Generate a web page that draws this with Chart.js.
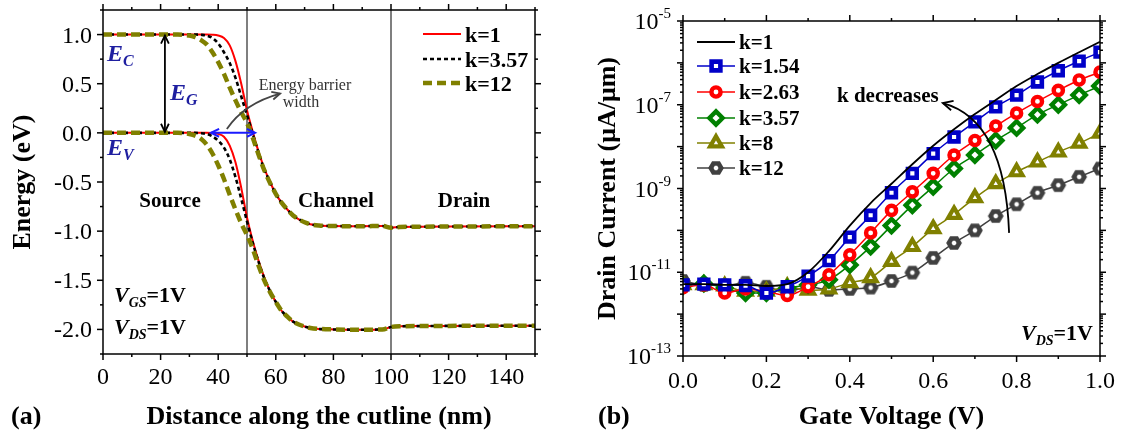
<!DOCTYPE html>
<html>
<head>
<meta charset="utf-8">
<script src="https://cdn.jsdelivr.net/npm/chart.js@4.4.0/dist/chart.umd.min.js"></script>
<style>
  html, body { margin: 0; padding: 0; background: #fff; }
  #wrap { position: relative; width: 1133px; height: 437px; }
  #cA { position: absolute; left: 0; top: 0; }
  #cB { position: absolute; left: 560px; top: 0; }
</style>
</head>
<body>
<div id="wrap">
  <canvas id="cA" width="560" height="437"></canvas>
  <canvas id="cB" width="573" height="437"></canvas>
</div>
<script>
// ---- (a) band diagram: distance along the cutline (nm) vs energy (eV)
var distNm = [0, 10, 20, 26, 28, 30, 32, 34, 36, 38, 40, 42, 44, 46, 48, 50, 52, 54, 56, 58, 60,
              62, 64, 66, 68, 70, 72, 75, 80, 90, 97, 100, 103, 110, 120, 150];
var ecK1   = [1, 1, 1, 1, 1, 1, 1, 1, 1, 0.998, 0.99, 0.965, 0.89, 0.73, 0.5, 0.23, 0.01, -0.19, -0.36, -0.5, -0.62,
              -0.71, -0.78, -0.84, -0.88, -0.91, -0.93, -0.942, -0.948, -0.95, -0.947, -0.965, -0.958, -0.955, -0.953, -0.95];
var evK1   = [0, 0, 0, 0, 0, 0, 0, 0, 0, -0.002, -0.01, -0.04, -0.13, -0.3, -0.56, -0.86, -1.1, -1.3, -1.47, -1.61, -1.72,
              -1.81, -1.87, -1.92, -1.95, -1.97, -1.985, -1.995, -2.0, -2.003, -2.0, -1.975, -1.968, -1.966, -1.964, -1.962];
var ecK357 = [1, 1, 1, 1, 1, 1, 1, 0.998, 0.99, 0.965, 0.91, 0.82, 0.71, 0.56, 0.37, 0.18, -0.01, -0.2, -0.37, -0.5, -0.62,
              -0.71, -0.78, -0.84, -0.88, -0.91, -0.93, -0.942, -0.948, -0.95, -0.947, -0.965, -0.958, -0.955, -0.953, -0.95];
var evK357 = [0, 0, 0, 0, 0, 0, 0, -0.003, -0.012, -0.035, -0.08, -0.15, -0.27, -0.45, -0.67, -0.9, -1.12, -1.31, -1.48, -1.61, -1.72,
              -1.81, -1.87, -1.92, -1.95, -1.97, -1.985, -1.995, -2.0, -2.003, -2.0, -1.975, -1.968, -1.966, -1.964, -1.962];
var ecK12  = [1, 1, 1, 1, 0.997, 0.99, 0.975, 0.945, 0.9, 0.82, 0.72, 0.6, 0.46, 0.33, 0.21, 0.1, -0.05, -0.22, -0.38, -0.51, -0.62,
              -0.71, -0.78, -0.84, -0.88, -0.91, -0.93, -0.942, -0.948, -0.95, -0.947, -0.965, -0.958, -0.955, -0.953, -0.95];
var evK12  = [0, 0, 0, 0, -0.004, -0.012, -0.028, -0.06, -0.12, -0.21, -0.33, -0.47, -0.63, -0.78, -0.92, -1.04, -1.18, -1.35, -1.5, -1.62, -1.72,
              -1.81, -1.87, -1.92, -1.95, -1.97, -1.985, -1.995, -2.0, -2.003, -2.0, -1.975, -1.968, -1.966, -1.964, -1.962];
var regionEdges = [50, 100];
var regionNames = ['Source', 'Channel', 'Drain'];

// ---- (b) transfer curves: gate voltage (V) vs drain current (uA/um)
var gateV   = [0, 0.05, 0.1, 0.15, 0.2, 0.25, 0.3, 0.35, 0.4, 0.45, 0.5, 0.55, 0.6, 0.65, 0.7, 0.75, 0.8, 0.85, 0.9, 0.95, 1.0];
var idK1    = [5.2e-12, 5.2e-12, 5.0e-12, 5.0e-12, 4.7e-12, 5.2e-12, 1.0e-11, 3.2e-11, 1.3e-10, 4.5e-10, 1.3e-9,
               3.8e-9, 1.05e-8, 2.6e-8, 6.0e-8, 1.3e-7, 2.8e-7, 5.4e-7, 1.0e-6, 1.8e-6, 3.2e-6];
var idK154  = [5.0e-12, 5.2e-12, 5.0e-12, 4.8e-12, 3.2e-12, 4.5e-12, 8.1e-12, 1.9e-11, 6.9e-11, 2.3e-10, 7.9e-10,
               2.3e-9, 6.8e-9, 1.7e-8, 3.9e-8, 8.9e-8, 1.7e-7, 3.5e-7, 6.5e-7, 1.1e-6, 1.8e-6];
var idK263  = [4.3e-12, 5.0e-12, 3.2e-12, 4.0e-12, 3.5e-12, 2.8e-12, 4.5e-12, 8.7e-12, 2.6e-11, 8.7e-11, 3.0e-10,
               8.3e-10, 2.3e-9, 6.3e-9, 1.4e-8, 3.1e-8, 6.3e-8, 1.2e-7, 2.2e-7, 3.9e-7, 6.0e-7];
var idK357  = [4.7e-12, 5.4e-12, 4.2e-12, 3.2e-12, 3.2e-12, 4.2e-12, 5.0e-12, 6.6e-12, 1.5e-11, 4.1e-11, 1.3e-10,
               4.0e-10, 1.1e-9, 3.0e-9, 6.3e-9, 1.4e-8, 2.8e-8, 5.8e-8, 1.0e-7, 1.7e-7, 2.8e-7];
var idK8    = [5.0e-12, 5.0e-12, 4.7e-12, 3.5e-12, 3.5e-12, 4.5e-12, 3.7e-12, 4.0e-12, 5.6e-12, 7.4e-12, 1.8e-11,
               4.1e-11, 1.1e-10, 2.4e-10, 6.0e-10, 1.3e-9, 2.5e-9, 4.3e-9, 7.4e-9, 1.2e-8, 2.1e-8];
var idK12   = [6.2e-12, 5.0e-12, 4.8e-12, 5.6e-12, 4.5e-12, 3.4e-12, 4.5e-12, 3.8e-12, 4.0e-12, 4.3e-12, 6.2e-12,
               9.8e-12, 2.2e-11, 5.0e-11, 1.0e-10, 2.2e-10, 4.2e-10, 7.9e-10, 1.2e-9, 1.9e-9, 3.0e-9];

var SERIF = "'Liberation Serif', 'Times New Roman', serif";
var OLIVE = 'rgb(128,128,0)';

function font(size, bold, italic) {
  return (italic ? 'italic ' : '') + (bold ? 'bold ' : '') + size + 'px ' + SERIF;
}
function pts(xs, ys) {
  return xs.map(function (x, i) { return { x: x, y: ys[i] }; });
}
function line(ctx, x1, y1, x2, y2) {
  ctx.beginPath(); ctx.moveTo(x1, y1); ctx.lineTo(x2, y2); ctx.stroke();
}
// parts: [text, size, bold, italic, dy]
function rich(ctx, parts, x, y, align) {
  var w = 0;
  parts.forEach(function (p) { ctx.font = font(p[1], p[2], p[3]); w += ctx.measureText(p[0]).width; });
  var cx = align === 'right' ? x - w : (align === 'center' ? x - w / 2 : x);
  ctx.textAlign = 'left';
  ctx.textBaseline = 'alphabetic';
  parts.forEach(function (p) {
    ctx.font = font(p[1], p[2], p[3]);
    ctx.fillText(p[0], cx, y + (p[4] || 0));
    cx += ctx.measureText(p[0]).width;
  });
}
function head(ctx, x, y, ang, len) {
  var s = 0.45;
  ctx.beginPath();
  ctx.moveTo(x - len * Math.cos(ang - s), y - len * Math.sin(ang - s));
  ctx.lineTo(x, y);
  ctx.lineTo(x - len * Math.cos(ang + s), y - len * Math.sin(ang + s));
  ctx.stroke();
}
function frame(ctx, a, xt, yt) {
  ctx.strokeStyle = '#000';
  ctx.lineWidth = 1.5;
  ctx.strokeRect(a.left, a.top, a.right - a.left, a.bottom - a.top);
  xt.forEach(function (t) {
    var l = t.major ? 6 : 3;
    line(ctx, t.p, a.bottom, t.p, a.bottom + l);
    line(ctx, t.p, a.top, t.p, a.top - l);
  });
  yt.forEach(function (t) {
    var l = t.major ? 6 : 3;
    line(ctx, a.left, t.p, a.left - l, t.p);
    line(ctx, a.right, t.p, a.right + l, t.p);
  });
}
function vTitle(ctx, text, x, y, size) {
  ctx.save();
  ctx.translate(x, y);
  ctx.rotate(-Math.PI / 2);
  ctx.font = font(size, true, false);
  ctx.textAlign = 'center';
  ctx.textBaseline = 'middle';
  ctx.fillText(text, 0, 0);
  ctx.restore();
}

// ---------------- panel (a)
var panelA = {
  id: 'panelA',
  beforeDatasetsDraw: function (chart) {
    var ctx = chart.ctx, xs = chart.scales.x, a = chart.chartArea;
    ctx.save();
    ctx.strokeStyle = '#555';
    ctx.lineWidth = 1.5;
    regionEdges.forEach(function (v) {
      var px = xs.getPixelForValue(v);
      line(ctx, px, a.top, px, a.bottom);
    });
    ctx.restore();
  },
  afterDatasetsDraw: function (chart) {
    var ctx = chart.ctx, xs = chart.scales.x, ys = chart.scales.y, a = chart.chartArea;
    ctx.save();
    var xt = [], yt = [];
    for (var v = 0; v <= 150; v += 10) xt.push({ p: xs.getPixelForValue(v), major: v % 20 === 0, v: v });
    for (var i = 0; i <= 14; i++) {
      var e = -2.25 + 0.25 * i;
      yt.push({ p: ys.getPixelForValue(e), major: i % 2 === 1, v: e });
    }
    frame(ctx, a, xt, yt);

    ctx.fillStyle = '#000';
    ctx.font = font(24, false, false);
    ctx.textAlign = 'center';
    ctx.textBaseline = 'alphabetic';
    xt.forEach(function (t) { if (t.major) ctx.fillText(String(t.v), t.p, a.bottom + 30); });
    ctx.textAlign = 'right';
    yt.forEach(function (t) { if (t.major) ctx.fillText(t.v.toFixed(1), a.left - 11, t.p + 8); });

    ctx.font = font(26, true, false);
    ctx.textAlign = 'center';
    ctx.fillText('Distance along the cutline (nm)', (a.left + a.right) / 2, 424);
    ctx.textAlign = 'left';
    ctx.fillText('(a)', 11, 424);
    vTitle(ctx, 'Energy (eV)', 23, (a.top + a.bottom) / 2, 26);

    // band gap arrow
    ctx.strokeStyle = '#000';
    ctx.lineWidth = 1.8;
    var gx = xs.getPixelForValue(21.5), g1 = ys.getPixelForValue(1.0), g0 = ys.getPixelForValue(0.0);
    line(ctx, gx, g1 + 1, gx, g0 - 1);
    head(ctx, gx, g1 + 1, -Math.PI / 2, 9);
    head(ctx, gx, g0 - 1, Math.PI / 2, 9);

    // barrier width arrow
    ctx.strokeStyle = '#1a1aff';
    ctx.lineWidth = 2;
    var b1 = xs.getPixelForValue(37.5), b2 = xs.getPixelForValue(52.8), by = ys.getPixelForValue(0);
    line(ctx, b1, by, b2, by);
    head(ctx, b1, by, Math.PI, 9);
    head(ctx, b2, by, 0, 9);

    // pointer to the label
    ctx.strokeStyle = '#444';
    ctx.lineWidth = 1.8;
    var sx = xs.getPixelForValue(43), sy = ys.getPixelForValue(0.04);
    var cx = xs.getPixelForValue(49), cy = ys.getPixelForValue(0.3);
    var ex = xs.getPixelForValue(61.5), ey = ys.getPixelForValue(0.4);
    ctx.beginPath(); ctx.moveTo(sx, sy); ctx.quadraticCurveTo(cx, cy, ex, ey); ctx.stroke();
    head(ctx, ex, ey, Math.atan2(ey - cy, ex - cx), 9);

    ctx.fillStyle = '#333';
    ctx.font = font(16, false, false);
    ctx.textAlign = 'center';
    ctx.fillText('Energy barrier', 305, 90);
    ctx.fillText('width', 301, 107);

    ctx.fillStyle = '#1f1fa0';
    rich(ctx, [['E', 24, true, true], ['C', 16, true, true, 5]], a.left + 4, 61);
    rich(ctx, [['E', 24, true, true], ['V', 16, true, true, 5]], a.left + 4, 155);
    rich(ctx, [['E', 24, true, true], ['G', 16, true, true, 5]], 170, 100);

    ctx.fillStyle = '#000';
    ctx.font = font(21, true, false);
    ctx.textAlign = 'center';
    var rx = [170, 336, 464];
    regionNames.forEach(function (n, k) { ctx.fillText(n, rx[k], 207); });

    rich(ctx, [['V', 22, true, true], ['GS', 14, true, true, 5], ['=1V', 22, true, false]], 114, 302);
    rich(ctx, [['V', 22, true, true], ['DS', 14, true, true, 5], ['=1V', 22, true, false]], 114, 334);

    // legend
    var rows = [34, 59, 83];
    chart.data.datasets.forEach(function (ds) {
      if (!ds.label) return;
      var ry = rows[ds.legendRow];
      ctx.strokeStyle = ds.borderColor;
      ctx.lineWidth = ds.borderWidth;
      ctx.setLineDash(ds.borderDash || []);
      line(ctx, 423, ry, 461, ry);
      ctx.setLineDash([]);
      ctx.fillStyle = '#000';
      ctx.font = font(22, true, false);
      ctx.textAlign = 'left';
      ctx.fillText(ds.label, 465, ry + 8);
    });
    ctx.restore();
  }
};

function band(label, row, ys, color, width, dash, order) {
  return {
    label: label, legendRow: row,
    data: pts(distNm, ys),
    borderColor: color, borderWidth: width, borderDash: dash,
    pointRadius: 0, fill: false, cubicInterpolationMode: 'monotone', order: order
  };
}

new Chart(document.getElementById('cA'), {
  type: 'line',
  data: {
    datasets: [
      band('k=1', 0, ecK1, 'rgb(255,0,0)', 2, [], 3),
      band(null, 0, evK1, 'rgb(255,0,0)', 2, [], 3),
      band('k=3.57', 1, ecK357, '#000', 2.6, [4, 3], 2),
      band(null, 1, evK357, '#000', 2.6, [4, 3], 2),
      band('k=12', 2, ecK12, OLIVE, 4.5, [9, 5], 1),
      band(null, 2, evK12, OLIVE, 4.5, [9, 5], 1)
    ]
  },
  options: {
    responsive: false, animation: false, events: [],
    layout: { padding: { left: 103, top: 10, right: 25, bottom: 83 } },
    scales: {
      x: { type: 'linear', min: 0, max: 150, display: false },
      y: { type: 'linear', min: -2.25, max: 1.25, display: false }
    },
    plugins: { legend: { display: false }, tooltip: { enabled: false } }
  },
  plugins: [panelA]
});

// ---------------- panel (b)
function hexagon(color) {
  var c = document.createElement('canvas');
  c.width = 18; c.height = 18;
  var g = c.getContext('2d');
  g.beginPath();
  for (var i = 0; i < 6; i++) {
    var ang = i * Math.PI / 3;
    g.lineTo(9 + 5.2 * Math.cos(ang), 9 + 5.2 * Math.sin(ang));
  }
  g.closePath();
  g.fillStyle = '#fff'; g.fill();
  g.lineWidth = 4.6; g.strokeStyle = color; g.stroke();
  return c;
}

function curve(label, ys, color, style, radius, bw, lw) {
  return {
    label: label,
    data: pts(gateV, ys),
    borderColor: color, borderWidth: lw || 1.5,
    pointStyle: style || false, pointRadius: style ? radius : 0,
    pointBorderColor: color, pointBackgroundColor: '#fff', pointBorderWidth: bw || 0,
    fill: false, cubicInterpolationMode: 'monotone'
  };
}

var panelB = {
  id: 'panelB',
  afterDatasetsDraw: function (chart) {
    var ctx = chart.ctx, xs = chart.scales.x, ys = chart.scales.y, a = chart.chartArea;
    ctx.save();
    var xt = [], yt = [];
    for (var i = 0; i <= 10; i++) xt.push({ p: xs.getPixelForValue(i / 10), major: i % 2 === 0, v: i / 10 });
    for (var e = -13; e <= -5; e++) {
      yt.push({ p: ys.getPixelForValue(Math.pow(10, e)), major: true, e: e });
      if (e < -5) for (var m = 2; m <= 9; m++) yt.push({ p: ys.getPixelForValue(m * Math.pow(10, e)), major: false });
    }
    frame(ctx, a, xt, yt);

    ctx.fillStyle = '#000';
    ctx.font = font(24, false, false);
    ctx.textAlign = 'center';
    ctx.textBaseline = 'alphabetic';
    xt.forEach(function (t) { if (t.major) ctx.fillText(t.v.toFixed(1), t.p, a.bottom + 32); });
    yt.forEach(function (t) {
      if (t.e !== undefined && Math.abs(t.e) % 2 === 1) {
        rich(ctx, [['10', 24, false, false], [String(t.e), 15, false, false, -11]], a.left - 12, t.p + 8, 'right');
      }
    });

    ctx.font = font(26, true, false);
    ctx.textAlign = 'center';
    ctx.fillText('Gate Voltage (V)', (a.left + a.right) / 2, 424);
    ctx.textAlign = 'left';
    ctx.fillText('(b)', 38, 424);
    vTitle(ctx, 'Drain Current (\u03bcA/\u03bcm)', 48, (a.top + a.bottom) / 2, 26);

    // "k decreases" arrow
    ctx.strokeStyle = '#000';
    ctx.lineWidth = 1.8;
    var sx = xs.getPixelForValue(0.782), sy = ys.getPixelForValue(8.7e-11);
    var cx = xs.getPixelForValue(0.772), cy = ys.getPixelForValue(4.4e-8);
    var ex = xs.getPixelForValue(0.623), ey = ys.getPixelForValue(1.1e-7);
    ctx.beginPath(); ctx.moveTo(sx, sy); ctx.quadraticCurveTo(cx, cy, ex, ey); ctx.stroke();
    head(ctx, ex, ey, Math.atan2(ey - cy, ex - cx), 11);

    ctx.fillStyle = '#000';
    ctx.font = font(21, true, false);
    ctx.textAlign = 'left';
    ctx.fillText('k decreases', 277, 102);
    rich(ctx, [['V', 22, true, true], ['DS', 14, true, true, 5], ['=1V', 22, true, false]], a.right - 7, 340, 'right');

    // legend
    var rows = [42, 66, 92, 118, 143, 168];
    var dp = Chart.helpers && Chart.helpers.drawPoint;
    chart.data.datasets.forEach(function (ds, k) {
      var ry = rows[k];
      ctx.strokeStyle = ds.borderColor;
      ctx.lineWidth = ds.borderWidth;
      line(ctx, a.left + 14, ry, a.left + 52, ry);
      if (ds.pointStyle && dp) {
        ctx.fillStyle = '#fff';
        ctx.lineWidth = ds.pointBorderWidth;
        dp(ctx, { pointStyle: ds.pointStyle, radius: ds.pointRadius, borderWidth: ds.pointBorderWidth, rotation: 0 },
           a.left + 33, ry);
      }
      ctx.fillStyle = '#000';
      ctx.font = font(21, true, false);
      ctx.textAlign = 'left';
      ctx.fillText(ds.label, a.left + 56, ry + 7);
    });
    ctx.restore();
  }
};

new Chart(document.getElementById('cB'), {
  type: 'line',
  data: {
    datasets: [
      curve('k=1', idK1, '#000', null, 0, 0, 1.8),
      curve('k=1.54', idK154, 'rgb(0,0,200)', 'rect', 6.2, 4.6),
      curve('k=2.63', idK263, 'rgb(255,0,0)', 'circle', 4.6, 4.4),
      curve('k=3.57', idK357, 'rgb(0,128,0)', 'rectRot', 6.6, 4.4),
      curve('k=8', idK8, OLIVE, 'triangle', 6.8, 4.2),
      curve('k=12', idK12, 'rgb(64,64,64)', hexagon('rgb(64,64,64)'), 7)
    ]
  },
  options: {
    responsive: false, animation: false, events: [],
    layout: { padding: { left: 123, top: 21, right: 33, bottom: 81 } },
    scales: {
      x: { type: 'linear', min: 0, max: 1, display: false },
      y: { type: 'logarithmic', min: 1e-13, max: 1e-5, display: false }
    },
    plugins: { legend: { display: false }, tooltip: { enabled: false } }
  },
  plugins: [panelB]
});
</script>
</body>
</html>
